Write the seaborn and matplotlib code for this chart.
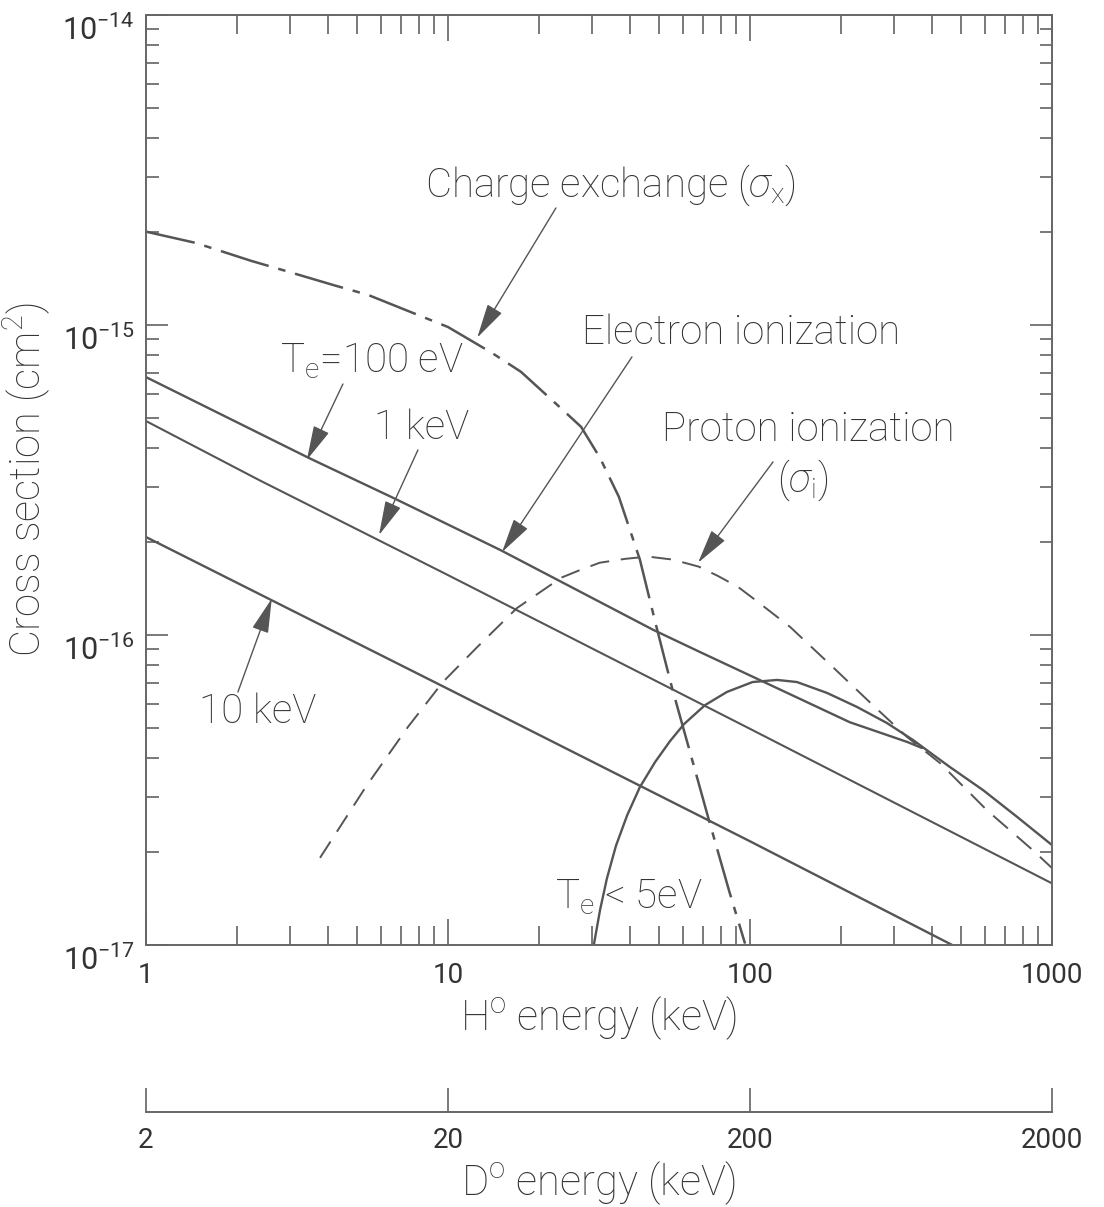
import matplotlib
matplotlib.use("Agg")
import matplotlib.pyplot as plt
import matplotlib.transforms as mtransforms
import seaborn as sns
from matplotlib.ticker import FixedLocator, FixedFormatter, NullLocator, LogLocator, NullFormatter

# ---------------- data ----------------
cx_energy = [1.0, 1.46, 2.23, 2.86, 4.23, 5.44, 7.96, 10.0, 14.0, 17.45, 24.0, 27.6, 31.9, 36.8, 43.2,
             48.8, 55.2, 63.3, 73.1, 85.2, 96.3]
cx_sigma = [2.0e-15, 1.84e-15, 1.61e-15, 1.50e-15, 1.34e-15, 1.25e-15, 1.077e-15, 9.85e-16, 8.12e-16,
            7.06e-16, 5.32e-16, 4.69e-16, 3.72e-16, 2.79e-16, 1.75e-16, 1.08e-16, 6.75e-17, 4.19e-17,
            2.53e-17, 1.50e-17, 1.01e-17]

pi_energy = [3.77, 5.35, 7.37, 9.62, 12.5, 16.9, 23.7, 27.4, 31.8, 38.6, 45.9, 55.6, 67.8, 78.3, 91.2,
             106, 136, 188, 255, 331, 426, 609, 865, 1000]
pi_sigma = [1.91e-17, 3.24e-17, 5.05e-17, 7.05e-17, 9.14e-17, 1.22e-16, 1.53e-16, 1.62e-16, 1.71e-16,
            1.76e-16, 1.79e-16, 1.75e-16, 1.66e-16, 1.55e-16, 1.43e-16, 1.28e-16, 1.06e-16, 7.88e-17,
            5.94e-17, 4.69e-17, 3.86e-17, 2.72e-17, 2.02e-17, 1.77e-17]

e100_energy = [1.0, 3.47, 6.58, 14.9, 47.7, 68.3, 214, 331, 371]
e100_sigma = [6.79e-16, 3.72e-16, 2.77e-16, 1.88e-16, 1.04e-16, 8.81e-17, 5.23e-17, 4.52e-17, 4.32e-17]

e1k_energy = [1.0, 2.37, 10, 100, 1000]
e1k_sigma = [4.9e-16, 3.16e-16, 1.56e-16, 4.98e-17, 1.58e-17]

e10k_energy = [1.0, 10, 100, 467]
e10k_sigma = [2.07e-16, 6.7e-17, 2.16e-17, 1.0e-17]

low_energy = [30.4, 31.9, 33.6, 36.0, 39.2, 43.2, 48.5, 54.4, 60.5, 71.0, 83.9, 102, 123, 143, 180, 226,
              284, 347, 385, 459, 591, 766, 1000]
low_sigma = [1.0e-17, 1.30e-17, 1.64e-17, 2.09e-17, 2.62e-17, 3.23e-17, 3.89e-17, 4.55e-17, 5.16e-17,
             5.94e-17, 6.55e-17, 7.05e-17, 7.16e-17, 7.05e-17, 6.50e-17, 5.86e-17, 5.20e-17, 4.58e-17,
             4.25e-17, 3.75e-17, 3.16e-17, 2.59e-17, 2.10e-17]

x_ticks = [1, 10, 100, 1000]
x_ticklabels = ["1", "10", "100", "1000"]
y_ticks = [1e-17, 1e-16, 1e-15, 1e-14]
d_ticks = [2, 20, 200, 2000]
d_ticklabels = ["2", "20", "200", "2000"]

# ---------------- style ----------------
sns.set_theme(style="ticks")
plt.rcParams['font.family'] = ['Roboto', 'DejaVu Sans']
plt.rcParams['font.weight'] = 'light'
plt.rcParams['axes.labelweight'] = 'light'
plt.rcParams['mathtext.fontset'] = 'custom'
plt.rcParams['mathtext.rm'] = 'Roboto:light'
plt.rcParams['mathtext.it'] = 'Roboto:italic:light'
plt.rcParams['mathtext.bf'] = 'Roboto:bold'
plt.rcParams['mathtext.sf'] = 'Roboto:light'
plt.rcParams['mathtext.fallback'] = 'cm'
LINE = '#555555'
TEXT = '#333333'

fig = plt.figure(figsize=(11.04, 12.07), dpi=100)
ax = fig.add_axes([0.1322, 0.2171, 0.8207, 0.7705])
ax.set_xscale('log')
ax.set_yscale('log')

common = dict(ax=ax, color=LINE, estimator=None, sort=False, legend=False)
sns.lineplot(x=cx_energy, y=cx_sigma, lw=1.8, linestyle=(0, (20, 4, 3, 4)), **common)
sns.lineplot(x=pi_energy, y=pi_sigma, lw=1.4, linestyle=(0, (10, 6)), **common)
sns.lineplot(x=e100_energy, y=e100_sigma, lw=1.7, **common)
sns.lineplot(x=e1k_energy, y=e1k_sigma, lw=1.5, **common)
sns.lineplot(x=e10k_energy, y=e10k_sigma, lw=1.7, **common)
sns.lineplot(x=low_energy, y=low_sigma, lw=1.7, **common)

ax.set_xlim(1, 1000)
ax.set_ylim(1e-17, 1e-14)

for s in ax.spines.values():
    s.set_visible(True)
    s.set_color('#666666')
    s.set_linewidth(1.4)

ax.xaxis.set_major_locator(FixedLocator(x_ticks))
ax.xaxis.set_major_formatter(FixedFormatter(x_ticklabels))
ax.xaxis.set_minor_locator(LogLocator(base=10, subs=range(2, 10)))
ax.xaxis.set_minor_formatter(NullFormatter())
ax.yaxis.set_major_locator(FixedLocator(y_ticks))
ax.yaxis.set_minor_locator(LogLocator(base=10, subs=range(2, 10)))
ax.yaxis.set_minor_formatter(NullFormatter())

ax.tick_params(which='both', direction='in', top=True, right=True, color='#555555',
               labelcolor=TEXT, width=1.1)
ax.tick_params(axis='x', which='major', length=19, pad=12, labelsize=20)
ax.tick_params(axis='x', which='minor', length=14)
ax.tick_params(axis='y', which='major', length=16, pad=8, labelsize=22)
ax.tick_params(axis='y', which='minor', length=9)

ax.set_xlabel(r"H$^{\mathrm{o}}$ energy (keV)", fontsize=30, color=TEXT, labelpad=4)
ax.set_ylabel(r"Cross section (cm$^{2}$)", fontsize=30, color=TEXT)
ax.yaxis.set_label_coords(-0.104, 0.5)

# tick labels: regular weight; y labels shifted slightly below their ticks
shift = mtransforms.ScaledTranslation(0, -9 / 72, fig.dpi_scale_trans)
for tick in ax.yaxis.get_major_ticks():
    tick.label1.set_transform(tick.label1.get_transform() + shift)
    tick.label1.set_fontweight('normal')
for tick in ax.xaxis.get_major_ticks():
    tick.label1.set_fontweight('normal')

# secondary D0 energy axis
sec = ax.secondary_xaxis(-0.1796, functions=(lambda x: 2 * x, lambda x: x / 2))
sec.set_xticks(d_ticks)
sec.set_xticklabels(d_ticklabels, fontweight='normal')
sec.xaxis.set_minor_locator(NullLocator())
sec.tick_params(direction='in', length=17, width=1.1, color='#555555', labelcolor=TEXT,
                labelsize=20, pad=11)
sec.spines['bottom'].set_color('#666666')
sec.spines['bottom'].set_linewidth(1.4)
sec.set_xlabel(r"D$^{\mathrm{o}}$ energy (keV)", fontsize=30, color=TEXT, labelpad=4)

# annotations
tfs = 29
texts = [
    (0.308, 0.817, r"Charge exchange ($\sigma_{\mathrm{x}}$)"),
    (0.148, 0.628, r"T$_{\mathrm{e}}$=100 eV"),
    (0.2517, 0.556, "1 keV"),
    (0.0585, 0.2505, "10 keV"),
    (0.4812, 0.658, "Electron ionization"),
    (0.5695, 0.554, "Proton ionization"),
    (0.6965, 0.500, r"($\sigma_{\mathrm{i}}$)"),
    (0.4514, 0.0516, r"T$_{\mathrm{e}}$ < 5eV"),
]
for tx, ty, s in texts:
    ax.text(tx, ty, s, transform=ax.transAxes, fontsize=tfs, color=TEXT, ha='left', va='center')

arrow = dict(arrowstyle='-|>,head_length=0.9,head_width=0.22', color='#555555', lw=1.0,
             mutation_scale=24, shrinkA=0, shrinkB=0)
arrows = [
    ((0.4525, 0.7925), (12.5, 9.1e-16)),
    ((0.2174, 0.6032), (3.41, 3.67e-16)),
    ((0.3002, 0.5323), (5.91, 2.10e-16)),
    ((0.1015, 0.2720), (2.61, 1.31e-16)),
    ((0.5364, 0.6323), (15.1, 1.85e-16)),
    ((0.6921, 0.5194), (67.3, 1.71e-16)),
]
for start, tip in arrows:
    ax.annotate('', xy=tip, xycoords='data', xytext=start, textcoords='axes fraction',
                arrowprops=arrow)

fig.savefig("out.png", dpi=100)
